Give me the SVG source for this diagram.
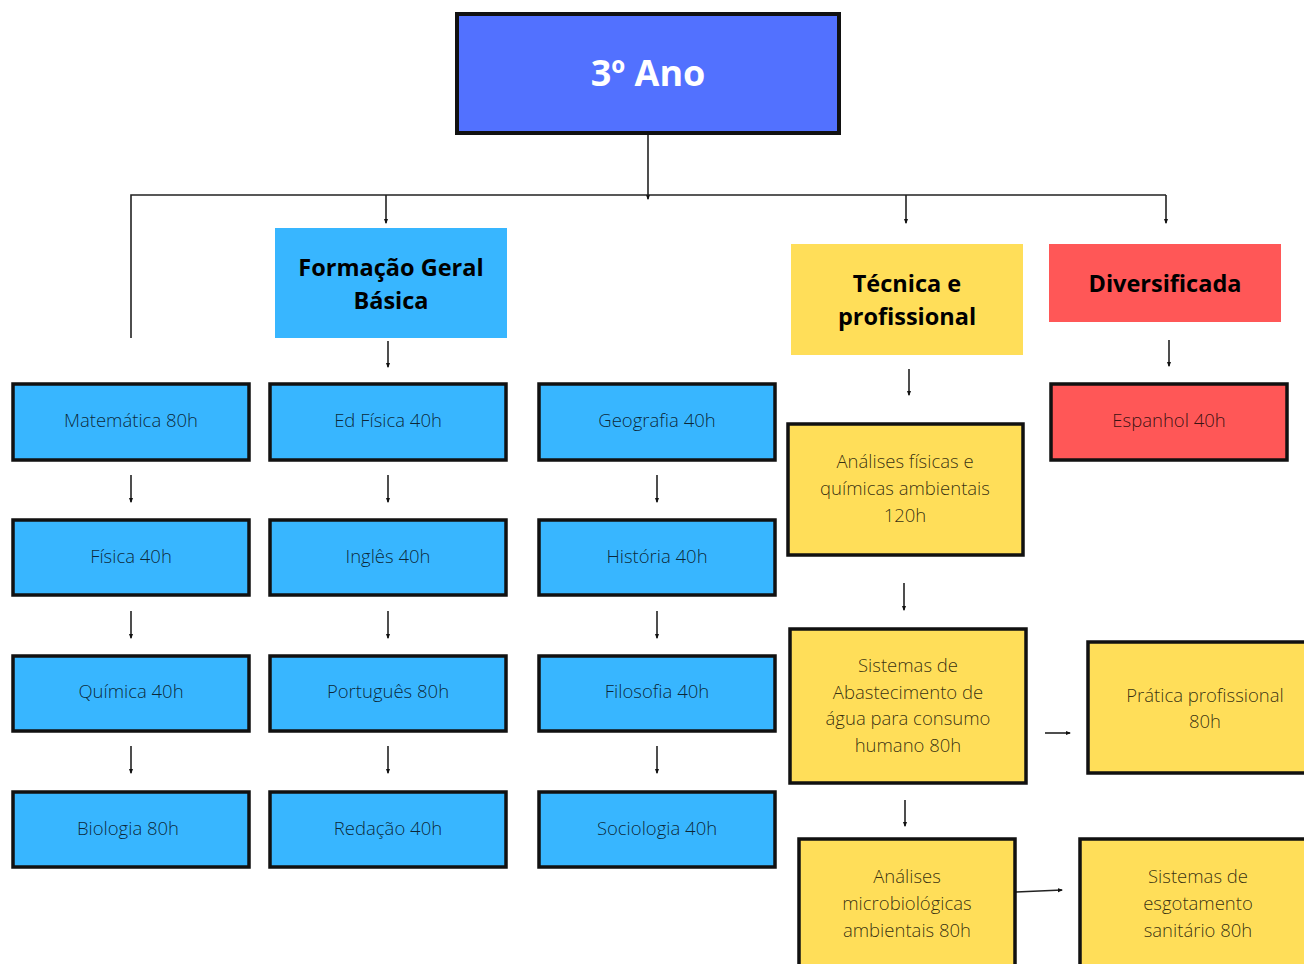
<svg xmlns="http://www.w3.org/2000/svg" width="1304" height="964" viewBox="0 0 1304 964">
<defs>
<marker id="ah" viewBox="0 0 10 10" refX="8" refY="5" markerWidth="5.5" markerHeight="5.5" orient="auto" markerUnits="userSpaceOnUse">
<path d="M0,1 L10,5 L0,9 z" fill="#111"/>
</marker>
<style>
.line{stroke:#222;stroke-width:1.6;fill:none}
.arr{stroke:#222;stroke-width:1.6;fill:none;marker-end:url(#ah)}
.bx{stroke:#111;stroke-width:3.5}
.blue{fill:#38B6FF}
.yel{fill:#FFDE59}
.red{fill:#FF5757}
.t{font-family:"Open Sans","Noto Sans",sans-serif;font-size:18.5px;font-weight:300;fill:#000;fill-opacity:0.8;text-anchor:middle}
.h{font-family:"Open Sans","Noto Sans",sans-serif;font-size:23.5px;font-weight:bold;fill:#000;text-anchor:middle}
</style>
</defs>
<rect width="1304" height="964" fill="#fff"/>
<g id="connectors">
<path class="arr" d="M648,134 V199"/>
<path class="line" d="M131,338 V195 H1166"/>
<path class="arr" d="M386,195 V223"/>
<path class="arr" d="M906,195 V223"/>
<path class="arr" d="M1166,195 V223"/>
<path class="arr" d="M388,341 V367"/>
<path class="arr" d="M909,369 V395"/>
<path class="arr" d="M1169,340 V366"/>
<path class="arr" d="M131,475 V502"/>
<path class="arr" d="M131,611 V638"/>
<path class="arr" d="M131,746 V773"/>
<path class="arr" d="M388,475 V502"/>
<path class="arr" d="M388,611 V638"/>
<path class="arr" d="M388,746 V773"/>
<path class="arr" d="M657,475 V502"/>
<path class="arr" d="M657,611 V638"/>
<path class="arr" d="M657,746 V773"/>
<path class="arr" d="M904,583 V610"/>
<path class="arr" d="M905,800 V826"/>
<path class="arr" d="M1045,733 H1070"/>
<path class="arr" d="M1016,892 L1062,890"/>
</g>
<g id="n-ano">
<rect x="457" y="14" width="382" height="119" fill="#5271FF" class="bx" style="stroke-width:4"/>
<text x="648" y="86" font-family="'Open Sans','Noto Sans',sans-serif" font-size="36" font-weight="bold" fill="#fff" text-anchor="middle">3º Ano</text>
</g>
<g id="n-fgb">
<rect x="275" y="228" width="232" height="110" class="blue"/>
<text class="h" x="391" y="276">Formação Geral</text>
<text class="h" x="391" y="309">Básica</text>
</g>
<g id="n-tec">
<rect x="791" y="244" width="232" height="111" class="yel"/>
<text class="h" x="907" y="292">Técnica e</text>
<text class="h" x="907" y="325">profissional</text>
</g>
<g id="n-div">
<rect x="1049" y="244" width="232" height="78" class="red"/>
<text class="h" x="1165" y="292">Diversificada</text>
</g>
<g id="n-mat"><rect x="13" y="384" width="236" height="76" class="blue bx"/><text class="t" x="131" y="427">Matemática 80h</text></g>
<g id="n-fis"><rect x="13" y="520" width="236" height="75" class="blue bx"/><text class="t" x="131" y="563">Física 40h</text></g>
<g id="n-qui"><rect x="13" y="656" width="236" height="75" class="blue bx"/><text class="t" x="131" y="698">Química 40h</text></g>
<g id="n-bio"><rect x="13" y="792" width="236" height="75" class="blue bx"/><text class="t" x="128" y="835">Biologia 80h</text></g>
<g id="n-edf"><rect x="270" y="384" width="236" height="76" class="blue bx"/><text class="t" x="388" y="427">Ed Física 40h</text></g>
<g id="n-ing"><rect x="270" y="520" width="236" height="75" class="blue bx"/><text class="t" x="388" y="563">Inglês 40h</text></g>
<g id="n-por"><rect x="270" y="656" width="236" height="75" class="blue bx"/><text class="t" x="388" y="698">Português 80h</text></g>
<g id="n-red"><rect x="270" y="792" width="236" height="75" class="blue bx"/><text class="t" x="388" y="835">Redação 40h</text></g>
<g id="n-geo"><rect x="539" y="384" width="236" height="76" class="blue bx"/><text class="t" x="657" y="427">Geografia 40h</text></g>
<g id="n-his"><rect x="539" y="520" width="236" height="75" class="blue bx"/><text class="t" x="657" y="563">História 40h</text></g>
<g id="n-fil"><rect x="539" y="656" width="236" height="75" class="blue bx"/><text class="t" x="657" y="698">Filosofia 40h</text></g>
<g id="n-soc"><rect x="539" y="792" width="236" height="75" class="blue bx"/><text class="t" x="657" y="835">Sociologia 40h</text></g>
<g id="n-esp"><rect x="1051" y="384" width="236" height="76" class="red bx"/><text class="t" x="1169" y="427">Espanhol 40h</text></g>
<g id="n-afq">
<rect x="788" y="424" width="235" height="131" class="yel bx"/>
<text class="t" x="905" y="468">Análises físicas e</text>
<text class="t" x="905" y="495">químicas ambientais</text>
<text class="t" x="905" y="522">120h</text>
</g>
<g id="n-saa">
<rect x="790" y="629" width="236" height="154" class="yel bx"/>
<text class="t" x="908" y="672">Sistemas de</text>
<text class="t" x="908" y="699">Abastecimento de</text>
<text class="t" x="908" y="725">água para consumo</text>
<text class="t" x="908" y="752">humano 80h</text>
</g>
<g id="n-pra">
<rect x="1088" y="642" width="230" height="131" class="yel bx"/>
<text class="t" x="1205" y="702">Prática profissional</text>
<text class="t" x="1205" y="728">80h</text>
</g>
<g id="n-amb">
<rect x="799" y="839" width="216" height="140" class="yel bx"/>
<text class="t" x="907" y="883">Análises</text>
<text class="t" x="907" y="910">microbiológicas</text>
<text class="t" x="907" y="937">ambientais 80h</text>
</g>
<g id="n-ses">
<rect x="1080" y="839" width="240" height="140" class="yel bx"/>
<text class="t" x="1198" y="883">Sistemas de</text>
<text class="t" x="1198" y="910">esgotamento</text>
<text class="t" x="1198" y="937">sanitário 80h</text>
</g>
</svg>
